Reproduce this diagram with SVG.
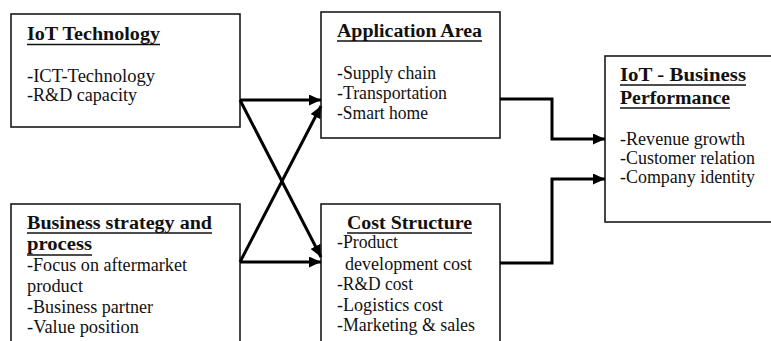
<svg xmlns="http://www.w3.org/2000/svg" width="771" height="341" viewBox="0 0 771 341">
  <style>
    .box { fill: #ffffff; stroke: #1a1a1a; stroke-width: 1.6; }
    .title { font-family: "Liberation Serif", "Times New Roman", serif; font-size: 18.5px; font-weight: bold; fill: #111; }
    .body { font-family: "Liberation Serif", "Times New Roman", serif; font-size: 18.5px; fill: #111; }
    .ul { stroke: #111; stroke-width: 1.5; }
    .conn { fill: none; stroke: #000; stroke-width: 3; stroke-linejoin: miter; }
  </style>
  <defs>
    <marker id="arrow" markerUnits="userSpaceOnUse" markerWidth="12" markerHeight="11" refX="12" refY="5.5" orient="auto">
      <path d="M0,0 L12,5.5 L0,11 z" fill="#000"/>
    </marker>
  </defs>
  <rect width="771" height="341" fill="#ffffff"/>

  <g id="iot-technology">
    <rect class="box" x="11" y="14" width="229" height="113"/>
    <text class="title" x="27" y="40" textLength="133" lengthAdjust="spacingAndGlyphs">IoT  Technology</text>
    <line class="ul" x1="27" y1="44.5" x2="160" y2="44.5"/>
    <text class="body" x="27" y="82" textLength="128" lengthAdjust="spacingAndGlyphs">-ICT-Technology</text>
    <text class="body" x="27" y="101" textLength="110" lengthAdjust="spacingAndGlyphs">-R&amp;D capacity</text>
  </g>

  <g id="business-strategy">
    <rect class="box" x="11" y="204" width="229" height="150"/>
    <text class="title" x="27" y="229" textLength="185" lengthAdjust="spacingAndGlyphs">Business strategy and</text>
    <line class="ul" x1="27" y1="233" x2="212" y2="233"/>
    <text class="title" x="27" y="250" textLength="65" lengthAdjust="spacingAndGlyphs">process</text>
    <line class="ul" x1="27" y1="255" x2="92" y2="255"/>
    <text class="body" x="27" y="271" textLength="160" lengthAdjust="spacingAndGlyphs">-Focus on aftermarket</text>
    <text class="body" x="27" y="292" textLength="56" lengthAdjust="spacingAndGlyphs">product</text>
    <text class="body" x="27" y="313" textLength="126" lengthAdjust="spacingAndGlyphs">-Business partner</text>
    <text class="body" x="27" y="333" textLength="112" lengthAdjust="spacingAndGlyphs">-Value position</text>
  </g>

  <g id="application-area">
    <rect class="box" x="321" y="12" width="179" height="126"/>
    <text class="title" x="337" y="37" textLength="145" lengthAdjust="spacingAndGlyphs">Application Area</text>
    <line class="ul" x1="337" y1="41" x2="482" y2="41"/>
    <text class="body" x="337" y="79" textLength="99" lengthAdjust="spacingAndGlyphs">-Supply chain</text>
    <text class="body" x="337" y="99" textLength="110" lengthAdjust="spacingAndGlyphs">-Transportation</text>
    <text class="body" x="337" y="119" textLength="91" lengthAdjust="spacingAndGlyphs">-Smart home</text>
  </g>

  <g id="cost-structure">
    <rect class="box" x="321" y="204" width="179" height="150"/>
    <text class="title" x="347" y="229" textLength="125" lengthAdjust="spacingAndGlyphs">Cost Structure</text>
    <line class="ul" x1="347" y1="233" x2="472" y2="233"/>
    <text class="body" x="337" y="248" textLength="61" lengthAdjust="spacingAndGlyphs">-Product</text>
    <text class="body" x="345" y="270" textLength="127" lengthAdjust="spacingAndGlyphs">development cost</text>
    <text class="body" x="337" y="290" textLength="76" lengthAdjust="spacingAndGlyphs">-R&amp;D cost</text>
    <text class="body" x="337" y="311" textLength="106" lengthAdjust="spacingAndGlyphs">-Logistics cost</text>
    <text class="body" x="337" y="331" textLength="138" lengthAdjust="spacingAndGlyphs">-Marketing &amp; sales</text>
  </g>

  <g id="iot-business-performance">
    <rect class="box" x="605" y="56" width="170" height="166"/>
    <text class="title" x="620" y="81" textLength="126" lengthAdjust="spacingAndGlyphs">IoT  - Business</text>
    <line class="ul" x1="620" y1="85" x2="746" y2="85"/>
    <text class="title" x="620" y="104" textLength="110" lengthAdjust="spacingAndGlyphs">Performance</text>
    <line class="ul" x1="620" y1="108" x2="730" y2="108"/>
    <text class="body" x="620" y="144.5" textLength="125" lengthAdjust="spacingAndGlyphs">-Revenue growth</text>
    <text class="body" x="620" y="164" textLength="135" lengthAdjust="spacingAndGlyphs">-Customer relation</text>
    <text class="body" x="620" y="183" textLength="135" lengthAdjust="spacingAndGlyphs">-Company identity</text>
  </g>

  <g id="connectors">
    <line class="conn" x1="240" y1="100" x2="321" y2="100" marker-end="url(#arrow)"/>
    <line class="conn" x1="240" y1="100" x2="321" y2="257" marker-end="url(#arrow)"/>
    <line class="conn" x1="240" y1="262" x2="321" y2="106" marker-end="url(#arrow)"/>
    <line class="conn" x1="240" y1="262" x2="321" y2="262" marker-end="url(#arrow)"/>
    <polyline class="conn" points="500,99 552,99 552,139 605,139" marker-end="url(#arrow)"/>
    <polyline class="conn" points="500,263 552,263 552,179 605,179" marker-end="url(#arrow)"/>
  </g>
</svg>
